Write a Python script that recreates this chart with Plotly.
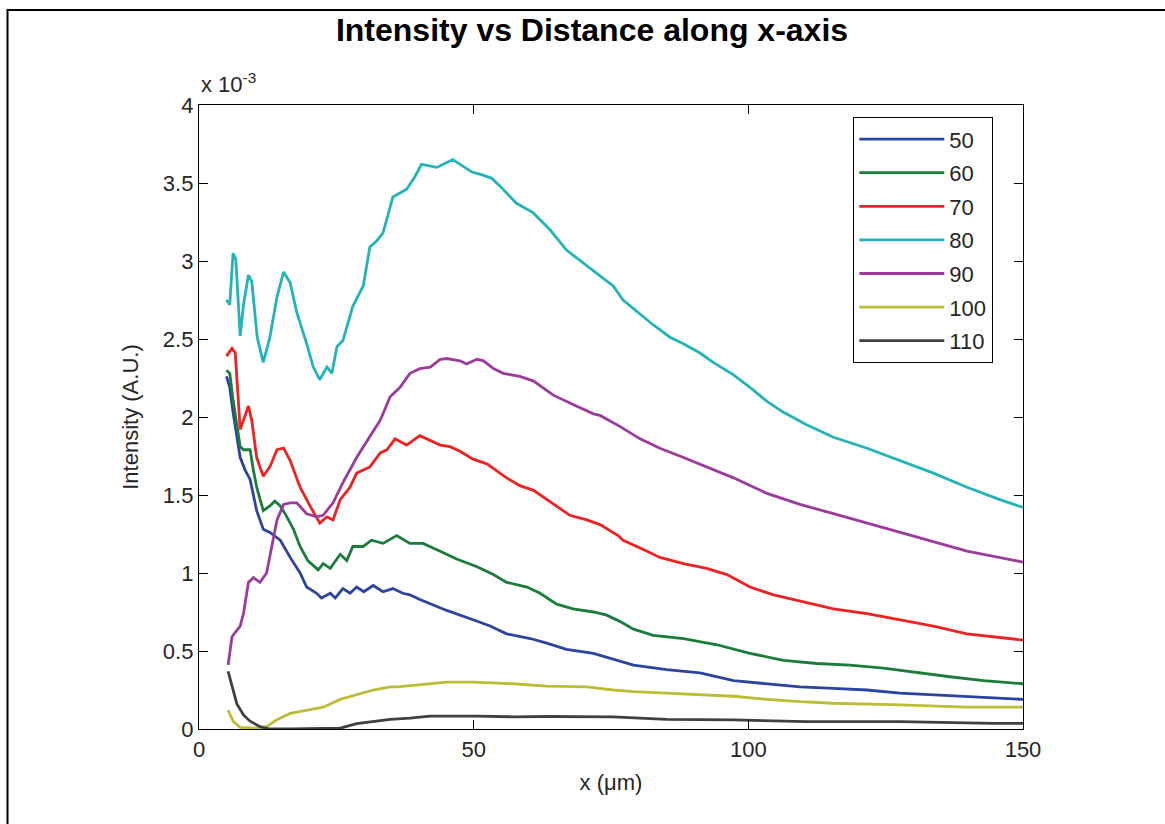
import plotly.graph_objects as go

# ---- data (x in micrometres, intensity in units of 1e-3) ----
series_names = ["50", "60", "70", "80", "90", "100", "110"]
series_colors = ["#2c44a0", "#1b7d3a", "#ee2222", "#22b4b8", "#9c3a9e", "#bdbd35", "#404040"]

x_50 = [5.0, 5.6, 6.2, 6.9, 7.5, 8.4, 9.3, 10.5, 11.4, 11.7, 12.9, 14.8, 16.6, 18.4, 19.6, 21.4, 22.3, 23.9, 24.8,
        26.2, 27.5, 28.7, 30.0, 31.7, 33.5, 35.3, 37.1, 38.4, 40.2, 45.1, 49.9, 53.0, 56.0, 60.3, 63.3, 66.9, 71.8,
        75.4, 79.1, 85.1, 91.2, 97.3, 103.4, 109.4, 115.5, 121.6, 127.6, 133.7, 139.8, 150.0]
y_50 = [2.26, 2.19, 2.03, 1.87, 1.74, 1.66, 1.60, 1.40, 1.31, 1.28, 1.26, 1.21, 1.10, 1.00, 0.91, 0.87, 0.84, 0.87, 0.84,
        0.90, 0.87, 0.91, 0.88, 0.92, 0.88, 0.90, 0.87, 0.86, 0.83, 0.76, 0.70, 0.66, 0.61, 0.58, 0.55, 0.51, 0.485,
        0.45, 0.41, 0.38, 0.36, 0.31, 0.29, 0.27, 0.26, 0.25, 0.23, 0.22, 0.21, 0.19]

x_60 = [5.0, 5.6, 6.2, 6.9, 7.5, 8.1, 9.3, 9.9, 10.5, 11.7, 12.9, 13.8, 14.8, 16.0, 17.2, 18.4, 19.8, 21.7, 22.6,
        23.9, 25.7, 26.9, 28.0, 29.9, 31.4, 33.5, 36.0, 38.4, 40.8, 43.9, 46.9, 50.6, 53.6, 56.0, 59.7, 62.1, 65.1,
        68.1, 71.8, 74.2, 76.6, 79.1, 82.7, 88.2, 94.3, 100.3, 106.4, 112.5, 118.5, 124.6, 130.7, 136.7, 142.8, 150.0]
y_60 = [2.30, 2.28, 2.11, 1.94, 1.81, 1.79, 1.79, 1.66, 1.55, 1.40, 1.43, 1.46, 1.43, 1.36, 1.28, 1.17, 1.08, 1.02, 1.06,
        1.03, 1.12, 1.08, 1.17, 1.17, 1.21, 1.19, 1.24, 1.19, 1.19, 1.14, 1.09, 1.04, 0.99, 0.94, 0.91, 0.87, 0.80,
        0.77, 0.75, 0.73, 0.69, 0.64, 0.60, 0.58, 0.54, 0.485, 0.44, 0.42, 0.41, 0.39, 0.36, 0.335, 0.31, 0.29]

x_70 = [5.0, 6.0, 6.6, 7.1, 7.5, 8.1, 9.0, 9.6, 10.5, 11.7, 12.9, 14.2, 15.4, 16.6, 18.4, 20.2, 22.0, 23.3, 24.4,
        25.7, 27.5, 28.7, 31.1, 33.0, 34.2, 35.7, 37.8, 40.2, 42.1, 43.9, 45.7, 47.5, 49.9, 52.4, 56.0, 58.4, 60.9,
        64.5, 67.5, 70.6, 73.0, 76.3, 77.2, 80.9, 83.9, 88.2, 92.4, 96.1, 100.3, 104.6, 109.4, 115.5, 121.6, 127.6,
        133.7, 139.8, 150.0]
y_70 = [2.39, 2.44, 2.41, 2.17, 1.92, 1.98, 2.07, 1.98, 1.74, 1.62, 1.68, 1.79, 1.80, 1.72, 1.55, 1.43, 1.32, 1.36, 1.34,
        1.47, 1.55, 1.64, 1.68, 1.77, 1.79, 1.86, 1.82, 1.88, 1.85, 1.82, 1.81, 1.78, 1.73, 1.70, 1.61, 1.56, 1.53,
        1.445, 1.37, 1.34, 1.31, 1.24, 1.21, 1.15, 1.10, 1.06, 1.03, 0.99, 0.91, 0.86, 0.82, 0.77, 0.74, 0.70,
        0.66, 0.61, 0.57]

x_80 = [5.0, 5.6, 6.2, 6.7, 7.5, 8.1, 9.0, 9.6, 10.6, 11.7, 12.9, 14.2, 15.4, 16.6, 17.8, 19.6, 20.8, 22.0, 23.3,
        24.2, 25.1, 26.2, 28.0, 29.9, 31.1, 32.4, 33.5, 35.3, 37.8, 39.3, 40.5, 43.3, 46.2, 47.5, 49.7, 51.7, 53.3,
        54.8, 57.8, 60.8, 63.9, 66.9, 69.9, 73.0, 75.4, 77.2, 80.3, 82.7, 85.8, 88.2, 91.2, 93.6, 97.3, 100.3, 103.4,
        106.4, 110.6, 115.5, 121.6, 127.6, 133.7, 139.8, 145.8, 150.0]
y_80 = [2.75, 2.72, 3.05, 3.01, 2.52, 2.72, 2.91, 2.87, 2.51, 2.35, 2.51, 2.77, 2.93, 2.86, 2.67, 2.47, 2.32, 2.24, 2.32,
        2.28, 2.45, 2.49, 2.71, 2.84, 3.09, 3.13, 3.18, 3.41, 3.46, 3.54, 3.62, 3.60, 3.65, 3.62, 3.57, 3.55, 3.53,
        3.48, 3.37, 3.31, 3.20, 3.07, 2.99, 2.91, 2.84, 2.75, 2.66, 2.59, 2.51, 2.47, 2.41, 2.35, 2.27, 2.19, 2.10,
        2.03, 1.95, 1.87, 1.80, 1.72, 1.64, 1.55, 1.47, 1.42]

x_90 = [5.3, 6.0, 6.6, 7.5, 8.1, 9.0, 9.9, 11.1, 12.3, 13.2, 14.2, 15.4, 16.6, 17.8, 19.6, 21.4, 22.6, 24.4, 26.2,
        28.7, 31.1, 33.0, 34.8, 36.6, 38.4, 40.2, 42.1, 43.9, 45.1, 47.5, 48.7, 50.6, 51.8, 53.6, 55.4, 58.4, 60.9,
        64.5, 68.1, 71.8, 73.0, 76.6, 80.3, 83.9, 88.2, 92.4, 97.3, 103.4, 109.4, 115.5, 121.6, 127.6, 133.7, 139.8,
        150.0]
y_90 = [0.41, 0.59, 0.62, 0.66, 0.74, 0.94, 0.97, 0.94, 1.00, 1.17, 1.34, 1.44, 1.45, 1.45, 1.38, 1.36, 1.37, 1.45, 1.58,
        1.74, 1.87, 1.98, 2.13, 2.19, 2.28, 2.31, 2.32, 2.37, 2.375, 2.36, 2.34, 2.37, 2.36, 2.31, 2.28, 2.26, 2.23,
        2.14, 2.08, 2.02, 2.01, 1.94, 1.86, 1.80, 1.74, 1.68, 1.61, 1.51, 1.44, 1.38, 1.32, 1.26, 1.20, 1.14,
        1.07]

x_100 = [5.3, 6.2, 7.5, 10.5, 12.3, 14.2, 16.6, 19.6, 22.6, 25.7, 28.7, 31.7, 34.8, 36.0, 39.0, 45.1, 49.9, 57.2,
         63.3, 70.6, 75.4, 79.1, 85.1, 91.2, 97.3, 103.4, 109.4, 115.5, 127.6, 139.8, 150.0]
y_100 = [0.12, 0.05, 0.01, 0.005, 0.015, 0.06, 0.10, 0.12, 0.14, 0.19, 0.22, 0.25, 0.27, 0.27, 0.28, 0.30, 0.30, 0.29,
         0.275, 0.27, 0.25, 0.24, 0.23, 0.22, 0.21, 0.19, 0.175, 0.165, 0.155, 0.14, 0.14]

x_110 = [5.3, 6.0, 6.9, 8.1, 9.3, 11.1, 12.9, 16.6, 25.7, 28.7, 31.7, 34.8, 38.4, 42.1, 50.6, 57.2, 63.3, 75.4,
         85.1, 97.3, 110.6, 127.6, 144.6, 150.0]
y_110 = [0.37, 0.27, 0.16, 0.09, 0.05, 0.015, 0.0, 0.0, 0.005, 0.035, 0.047, 0.062, 0.07, 0.083, 0.083, 0.078, 0.08,
         0.078, 0.062, 0.058, 0.047, 0.047, 0.036, 0.036]

xs = [x_50, x_60, x_70, x_80, x_90, x_100, x_110]
ys = [y_50, y_60, y_70, y_80, y_90, y_100, y_110]

x_ticks = [0, 50, 100, 150]
y_ticks = [0, 0.5, 1, 1.5, 2, 2.5, 3, 3.5, 4]
y_tick_text = ["0", "0.5", "1", "1.5", "2", "2.5", "3", "3.5", "4"]

FONT = "Liberation Sans Narrow, Arial Narrow, Liberation Sans, Arial, sans-serif"
TXT = "#262626"

fig = go.Figure()
for i, name in enumerate(series_names):
    fig.add_trace(go.Scatter(
        x=xs[i], y=ys[i], mode="lines", name=name, legendgroup=name,
        line=dict(color=series_colors[i], width=2.8),
    ))

W, H = 1165, 824
L, R, T, B = 199, 1023, 105, 729

fig.update_layout(
    width=W, height=H,
    margin=dict(l=L, r=W - R, t=T, b=H - B),
    paper_bgcolor="white", plot_bgcolor="white",
    font=dict(family=FONT, size=22, color=TXT),
    title=dict(text="<b>Intensity vs Distance along x-axis</b>",
               font=dict(family="Liberation Sans, Arial, sans-serif", size=32, color="black"),
               x=592 / W, xanchor="center", xref="container",
               y=1 - 30 / H, yanchor="middle", yref="container"),
    showlegend=True,
    legend=dict(
        x=(853 - L) / (R - L), xanchor="left",
        y=(B - 117) / (B - T), yanchor="top",
        bgcolor="white", bordercolor="black", borderwidth=1.3,
        font=dict(family=FONT, size=22, color=TXT),
        tracegroupgap=2, itemwidth=85,
    ),
    xaxis=dict(
        range=[0, 150], tickvals=x_ticks, ticktext=[str(v) for v in x_ticks],
        ticks="inside", ticklen=9, tickwidth=1.2, tickcolor="black",
        showline=True, linecolor="black", linewidth=1.4, mirror="ticks",
        showgrid=False, zeroline=False,
        title=dict(text="x (μm)", standoff=14, font=dict(size=22, color=TXT)),
    ),
    yaxis=dict(
        range=[0, 4], tickvals=y_ticks, ticktext=y_tick_text,
        ticks="inside", ticklen=9, tickwidth=1.2, tickcolor="black",
        showline=True, linecolor="black", linewidth=1.4, mirror="ticks",
        showgrid=False, zeroline=False,
        title=dict(text="Intensity (A.U.)", standoff=18, font=dict(size=22, color=TXT)),
    ),
    annotations=[dict(
        text="x 10<sup>-3</sup>", xref="paper", yref="paper", x=0, y=1 + 6 / (B - T),
        xanchor="left", yanchor="bottom", showarrow=False,
        font=dict(family=FONT, size=22, color=TXT),
    )],
    shapes=[dict(
        type="rect", xref="paper", yref="paper",
        x0=(7.5 - L) / (R - L), x1=(1200 - L) / (R - L),
        y0=(B - 900) / (B - T), y1=(B - 10) / (B - T),
        line=dict(color="black", width=2), fillcolor="rgba(0,0,0,0)", layer="below",
    )],
)

fig.write_html("out.html")
